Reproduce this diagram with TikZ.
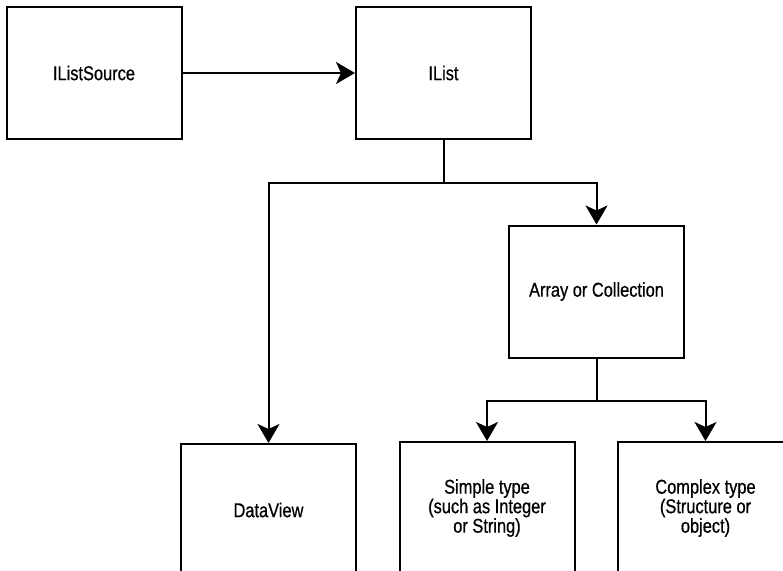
\documentclass[tikz,border=0pt]{standalone}
\usepackage{fontspec}
\setmainfont{Liberation Sans}[FakeStretch=0.82,FakeBold=0.6]
\usetikzlibrary{arrows.meta}

\begin{document}
\begin{tikzpicture}[x=1pt,y=-1pt,line width=2pt,
	arr/.style={-{Stealth[length=19pt,width=22pt,inset=5pt]}}]
	\useasboundingbox (0,0) rectangle (783,570);
	\begin{scope}[every node/.style={rectangle,draw,line width=2pt,inner sep=0pt,
		minimum width=175pt,minimum height=132pt,align=center,
		font=\fontsize{20}{19.5}\selectfont}]
	\node (S) at (94,73) {IListSource};
	\node (L) at (443.5,73) {IList};
	\node (C) at (596.5,291.5) {Array or Collection};
	\node (D) at (268.5,510) {DataView};
	\node (P) at (487,508) {Simple type\\(such as Integer\\or String)};
	\node (X) at (705.5,508) {Complex type\\(Structure or\\object)};
	\end{scope}
	\coordinate (J) at (443.5,183);
	\coordinate (K) at (596.5,401);
	\draw [arr] (S) -- (L);
	\draw (L) -- (J);
	\draw [arr] (J) -| (D);
	\draw [arr] (J) -| (C);
	\draw (C) -- (K);
	\draw [arr] (K) -| (P);
	\draw [arr] (K) -| (X);
\end{tikzpicture}
\end{document}
